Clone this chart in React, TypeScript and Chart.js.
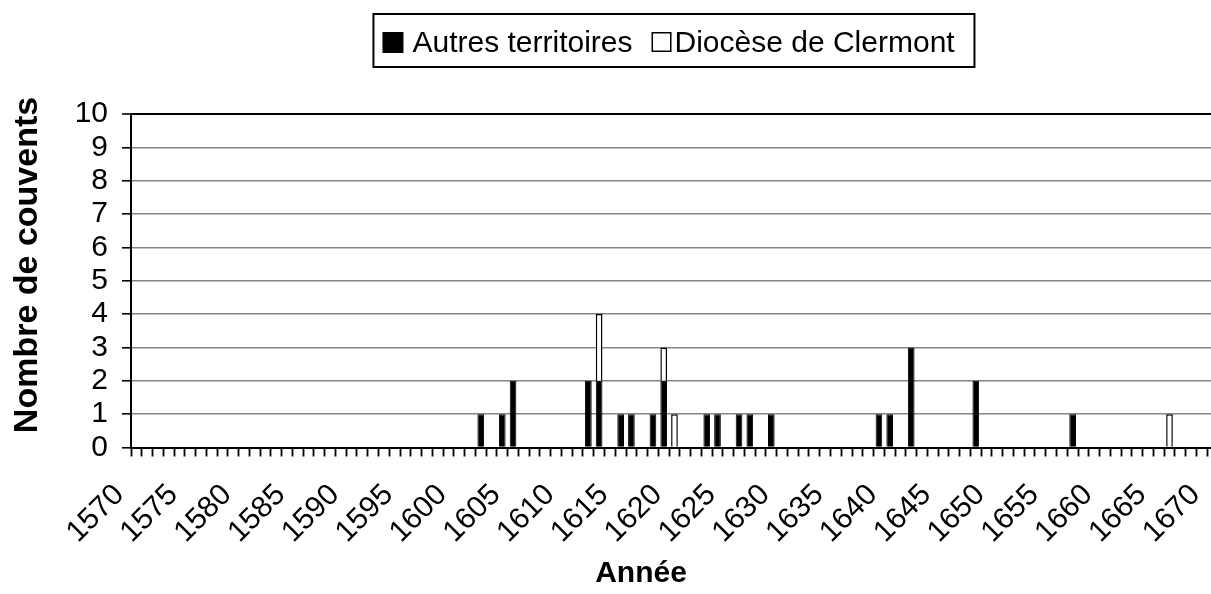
import React, { useEffect, useRef } from 'react';
import { Chart, registerables } from 'chart.js';

Chart.register(...registerables);

// Categories: one per year
const years: number[] = [
  1570, 1571, 1572, 1573, 1574, 1575, 1576, 1577, 1578, 1579,
  1580, 1581, 1582, 1583, 1584, 1585, 1586, 1587, 1588, 1589,
  1590, 1591, 1592, 1593, 1594, 1595, 1596, 1597, 1598, 1599,
  1600, 1601, 1602, 1603, 1604, 1605, 1606, 1607, 1608, 1609,
  1610, 1611, 1612, 1613, 1614, 1615, 1616, 1617, 1618, 1619,
  1620, 1621, 1622, 1623, 1624, 1625, 1626, 1627, 1628, 1629,
  1630, 1631, 1632, 1633, 1634, 1635, 1636, 1637, 1638, 1639,
  1640, 1641, 1642, 1643, 1644, 1645, 1646, 1647, 1648, 1649,
  1650, 1651, 1652, 1653, 1654, 1655, 1656, 1657, 1658, 1659,
  1660, 1661, 1662, 1663, 1664, 1665, 1666, 1667, 1668, 1669,
  1670,
];

// Tick labels shown on the x axis
const xTickLabels: string[] = [
  '1570', '1575', '1580', '1585', '1590', '1595', '1600', '1605', '1610',
  '1615', '1620', '1625', '1630', '1635', '1640', '1645', '1650', '1655',
  '1660', '1665', '1670',
];

// Series: Autres territoires (years with foundations, and counts)
const autresYears: number[] = [
  1602, 1604, 1605, 1612, 1613, 1615, 1616, 1618, 1619, 1623,
  1624, 1626, 1627, 1629, 1639, 1640, 1642, 1648, 1657,
];
const autresCounts: number[] = [
  1, 1, 2, 2, 2, 1, 1, 1, 2, 1,
  1, 1, 1, 1, 1, 1, 3, 2, 1,
];

// Series: Diocèse de Clermont
const clermontYears: number[] = [1613, 1619, 1620, 1666];
const clermontCounts: number[] = [2, 1, 1, 1];

const seriesNames: string[] = ['Autres territoires', 'Diocèse de Clermont'];
const yAxisTitle = 'Nombre de couvents';
const xAxisTitle = 'Année';

const FONT = "'Liberation Sans', Arial, Helvetica, sans-serif";

function buildSeries(ys: number[], counts: number[]): number[] {
  return years.map((y) => {
    const i = ys.indexOf(y);
    return i >= 0 ? counts[i] : 0;
  });
}

const overlayPlugin = {
  id: 'overlayLegendAndTitles',
  afterDraw(chart: any) {
    const { ctx, chartArea } = chart;
    const cx = (chartArea.left + chartArea.right) / 2;
    ctx.save();
    // Legend box
    const boxLeft = cx - 301;
    const boxTop = 14;
    const boxW = 601;
    const boxH = 53;
    ctx.fillStyle = '#fff';
    ctx.fillRect(boxLeft, boxTop, boxW, boxH);
    ctx.lineWidth = 2;
    ctx.strokeStyle = '#000';
    ctx.strokeRect(boxLeft, boxTop, boxW, boxH);

    ctx.font = `30px ${FONT}`;
    ctx.textBaseline = 'alphabetic';
    ctx.textAlign = 'left';
    const ds = chart.data.datasets;
    let x = boxLeft + 9;
    // item 1
    ctx.fillStyle = ds[0].backgroundColor;
    ctx.fillRect(x, 32, 21, 21);
    ctx.fillStyle = '#000';
    ctx.fillText(ds[0].label, x + 30, 52);
    const w1 = ctx.measureText(ds[0].label).width;
    x = x + 30 + w1 + 19;
    // item 2
    ctx.fillStyle = ds[1].backgroundColor;
    ctx.fillRect(x, 32, 20, 20);
    ctx.lineWidth = 1.5;
    ctx.strokeStyle = '#000';
    ctx.strokeRect(x + 0.75, 32.75, 18.5, 18.5);
    ctx.fillStyle = '#000';
    ctx.fillText(ds[1].label, x + 23, 52);

    // X axis title
    ctx.font = `bold 30px ${FONT}`;
    ctx.textAlign = 'center';
    ctx.textBaseline = 'alphabetic';
    ctx.fillText(xAxisTitle, 641, 582);

    // Y axis title
    ctx.save();
    ctx.translate(27.5, 265);
    ctx.rotate(-Math.PI / 2);
    ctx.font = `bold 34px ${FONT}`;
    ctx.textAlign = 'center';
    ctx.textBaseline = 'middle';
    ctx.fillText(yAxisTitle, 0, 0);
    ctx.restore();

    ctx.restore();
  },
};

export default function App() {
  const canvasRef = useRef<HTMLCanvasElement | null>(null);

  useEffect(() => {
    if (!canvasRef.current) return;
    Chart.defaults.font.family = FONT;
    const chart = new Chart(canvasRef.current, {
      type: 'bar',
      data: {
        labels: years.map(String),
        datasets: [
          {
            label: seriesNames[0],
            data: buildSeries(autresYears, autresCounts),
            backgroundColor: '#000000',
            borderColor: '#000000',
            borderWidth: 1,
            barPercentage: 0.62,
            categoryPercentage: 1,
          },
          {
            label: seriesNames[1],
            data: buildSeries(clermontYears, clermontCounts),
            backgroundColor: '#ffffff',
            borderColor: '#000000',
            borderWidth: 1.5,
            barPercentage: 0.62,
            categoryPercentage: 1,
          },
        ],
      },
      options: {
        animation: false,
        responsive: true,
        maintainAspectRatio: false,
        layout: { padding: { top: 114, right: 0, bottom: 0, left: 0 } },
        plugins: {
          legend: { display: false },
          tooltip: { enabled: false },
          title: { display: false },
        },
        scales: {
          x: {
            type: 'category',
            stacked: true,
            offset: true,
            grid: {
              offset: true,
              drawOnChartArea: false,
              drawTicks: true,
              tickLength: 9,
              tickColor: '#000',
              tickWidth: 1.8,
              color: '#000',
            },
            border: { color: '#000', width: 2 },
            ticks: {
              autoSkip: false,
              minRotation: 45,
              maxRotation: 45,
              labelOffset: -17,
              padding: 21,
              color: '#000',
              font: { size: 30, family: FONT },
              callback: (_v: any, idx: number) => {
                const s = String(years[idx]);
                return xTickLabels.includes(s) ? s : '';
              },
            },
            afterFit: (s: any) => {
              s.height = 146.5;
            },
          },
          y: {
            stacked: true,
            min: 0,
            max: 10,
            ticks: {
              stepSize: 1,
              autoSkip: false,
              padding: 14,
              color: '#000',
              font: { size: 30, family: FONT },
            },
            grid: {
              color: (c: any) => (c.tick && c.tick.value === 10 ? '#000' : '#858585'),
              lineWidth: (c: any) => (c.tick && c.tick.value === 10 ? 2 : 1.6),
              tickColor: '#000',
              tickLength: 9,
              tickWidth: 1.6,
            },
            border: { color: '#000', width: 2 },
            title: { display: false },
            afterFit: (s: any) => {
              s.width = 131;
            },
          },
        },
      },
      plugins: [overlayPlugin],
    });
    return () => chart.destroy();
  }, []);

  return (
    <div
      style={{
        position: 'fixed',
        left: 0,
        top: 0,
        width: 1211,
        height: 594,
        overflow: 'hidden',
        background: '#fff',
      }}
    >
      <div style={{ position: 'relative', width: 1259, height: 594 }}>
        <canvas ref={canvasRef} />
      </div>
    </div>
  );
}
